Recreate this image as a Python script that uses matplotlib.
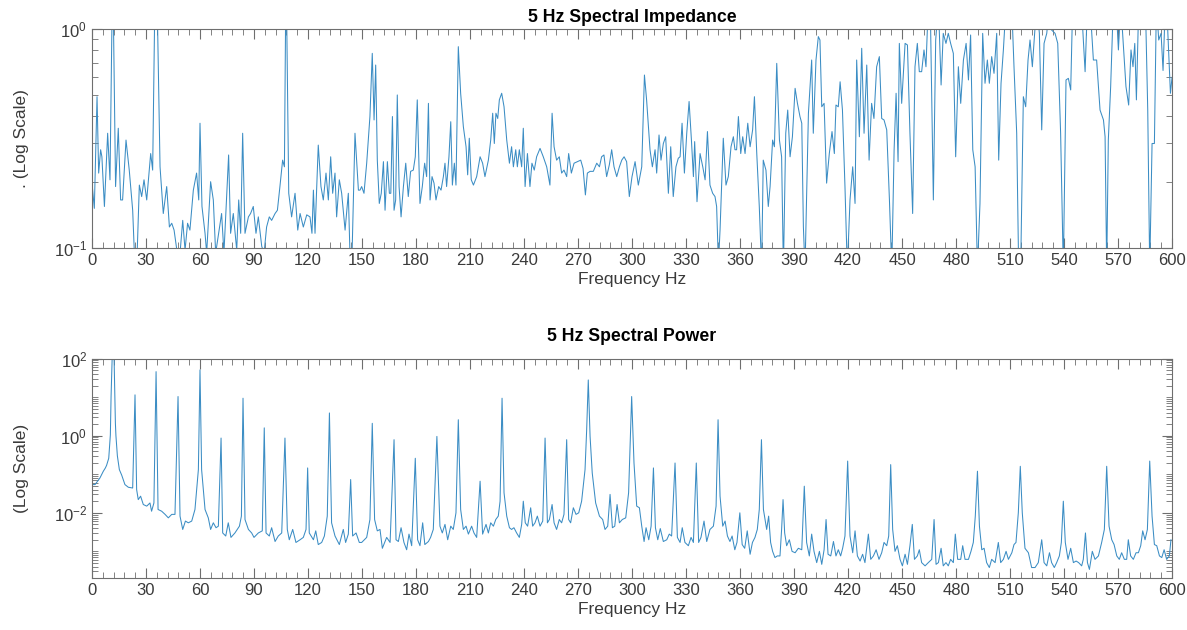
"""
Spectral impedance and spectral power of a 5 Hz signal, two log-scale panels.
"""

import matplotlib
matplotlib.use('Agg')
import matplotlib.pyplot as plt
from matplotlib.ticker import MultipleLocator, LogLocator, NullFormatter

# --- 5 Hz Spectral Impedance ---
imp_freq = [
    0, 1.3, 2.8, 3.7, 4.8, 5.5, 6.9, 8.7, 10, 11.5,
    13.1, 14.6, 15.9, 17, 18.9, 20.7, 22.6, 23.9, 24.8, 26.3,
    27.6, 28.9, 30.4, 32.6, 33.7, 35.2, 36.3, 37.8, 39.6, 41.5,
    43, 44.3, 45.6, 47, 48.9, 50.4, 51.7, 53.1, 54.4, 56.3,
    58.1, 59.3, 60, 61.1, 62.8, 63.7, 65.9, 67.4, 68.7, 70.2,
    72, 73.3, 75.9, 77, 78.5, 80.4, 81.5, 82.6, 83.7, 85,
    86.9, 88.1, 89.6, 91.1, 92.4, 94.3, 95.6, 97, 98.5, 99.8,
    101.7, 103, 104.4, 105.9, 106.9, 107.8, 109.3, 110.9, 112.8, 114.3,
    115.6, 117.4, 119.3, 121.1, 122.2, 123, 123.9, 125.7, 127.2, 128.5,
    130, 131.3, 132.6, 133.7, 135, 135.9, 137.4, 138.7, 140.6, 142.4,
    143.3, 144.3, 146.1, 148,
    148.9, 149.8, 151.1, 152.6, 154.4, 155.7, 156.7, 157.6, 158.5, 159.6,
    160.7, 161.9, 162.8, 164.1, 165.2, 166, 166.9, 167.8, 168.7, 169.6,
    170.6, 171.7, 173, 174.3, 175.7, 177, 178.5, 179.6, 180.7, 182.2,
    183.5, 184.8, 185.9, 186.9, 187.8, 188.9, 190, 191.1, 192.6, 193.9,
    195.2, 196.1, 197, 198.3, 199.3, 200.2, 201.3, 202.2, 203.5, 204.8,
    206.3, 207.8, 208.7, 209.6, 210.7, 211.9, 213.7, 215.6, 217, 218.3,
    220.2, 221.5, 222.6, 223.5, 224.4, 225.4, 226.3, 227.6, 228.9, 230.4,
    231.9, 233.1, 234.1, 235.4, 236.3, 237.4, 238.7, 239.6, 240.6, 241.9,
    243.3, 244.4, 245.7, 247, 248.9, 250.7, 252.6, 254.4, 255.6, 256.7,
    258.1, 259.6, 260.9, 262.2, 263.7, 264.8, 266.3, 267.8, 269.6, 271.5,
    272.8, 274.1, 275.2, 276.7, 278.5, 280.4, 281.9, 283.1, 284.4, 285.9,
    287.4, 288.7, 290, 291.5, 293, 294.3, 295.6, 297, 298.5, 300,
    301.7, 303.5, 305.4, 306.9, 308.1, 310, 311.3, 312.8, 313.7, 315,
    316.1, 317.4, 318.7, 320.2, 321.5, 322.9, 324.4, 325.7, 326.7, 327.8,
    329.1, 330.4, 331.7, 333, 334.1, 334.8, 336.1, 337.8, 339.3, 340.6,
    341.9, 343.3, 344.8, 346.1, 347, 348, 348.9, 350.7, 352.2, 353.5,
    355, 356.3, 357.2, 358.1, 359.1, 360.4, 361.5, 362.8, 364.3, 365.6,
    367, 368, 369.3, 370.7, 372, 372.9, 374.4, 375.7, 376.7, 378.1,
    379.1, 380.4, 381.9, 383.1, 384.1, 385.4, 386.5, 387.8, 389.1, 390.6,
    391.9, 393.3, 394.3, 395.2, 396.1, 398, 399.8, 400.7, 402.2, 403.5,
    404.4, 405.4, 406.7, 408.1, 409.6, 411.1, 412.4, 413.3, 414.6, 415.6,
    416.9, 418.3, 419.6, 421.1, 422.6, 423.9, 424.8, 426.3, 427.6, 428.9,
    430.4, 431.7, 433.1, 434.4, 435.9, 437.4, 438.7, 440, 441.5, 443,
    444.3, 445.6, 446.7, 447.8, 448.5, 449.8, 451.7, 453, 454.4, 455.9,
    457.2, 458.5, 459.6, 460.9, 462.2, 463.3, 464.6, 465.9, 467.4, 468.7,
    470.2, 471.7, 472.9, 474.4, 475.7, 477, 478.5, 479.8, 481.3, 482.6,
    484.1, 485.6, 486.9, 488.1, 489.3, 490.6, 491.9, 493.3, 494.8, 496.1,
    497.4, 498.5, 499.8, 501.1, 502.6, 503.7, 505, 506.3, 507.8, 509.6,
    510.9, 512.2, 513.7, 514.8, 515.9, 517.4, 518.7, 520, 521.1, 522.4,
    523.7, 524.8, 526.3, 527.6, 528.9, 530.4, 531.9, 533.1, 535, 536.5,
    538.1, 539.6, 541.1, 542.4, 543.7, 544.8, 547, 549.6, 551.7, 553,
    554.4, 556.3, 558.1, 560, 561.9, 562.8, 563.7, 564.6, 565.9, 567.4,
    568.9, 570.2, 571.5, 573, 574.4, 575.9, 577.2, 578.3, 579.3, 580.2,
    581.5, 583.3, 585.2, 586.5, 587.6, 588.9, 590.2, 591.3, 592.6, 593.9,
    595, 596.3, 597.6, 599.1, 600,
]
imp_val = [
    0.198, 0.152, 0.49, 0.22, 0.281, 0.261, 0.155, 0.334, 0.205, 2.0,
    0.191, 0.352, 0.166, 0.166, 0.311, 0.227, 0.149, 0.08, 0.08, 0.194,
    0.172, 0.205, 0.166, 0.27, 0.227, 2.0, 1.2, 0.235, 0.144, 0.191,
    0.125, 0.13, 0.121, 0.1, 0.095, 0.134, 0.098, 0.13, 0.121, 0.184,
    0.22, 0.166, 0.371, 0.155, 0.117, 0.095, 0.201, 0.166, 0.095, 0.115,
    0.144, 0.095, 0.266, 0.117, 0.144, 0.098, 0.166, 0.117, 0.334, 0.117,
    0.139, 0.144, 0.155, 0.117, 0.139, 0.102, 0.095, 0.125, 0.139, 0.134,
    0.144, 0.149, 0.191, 0.252, 0.235, 2.0, 0.178, 0.139, 0.178, 0.121,
    0.144, 0.125, 0.142, 0.139, 0.117, 0.184, 0.117, 0.295, 0.191, 0.166,
    0.22, 0.166, 0.261, 0.178, 0.22, 0.139, 0.205, 0.178, 0.121, 0.178,
    0.095, 0.082, 0.334, 0.184,
    0.184, 0.191, 0.178, 0.244, 0.398, 0.772, 0.384, 0.683, 0.252, 0.16,
    0.178, 0.248, 0.149, 0.248, 0.178, 0.178, 0.398, 0.149, 0.166, 0.499,
    0.191, 0.139, 0.191, 0.244, 0.172, 0.224, 0.227, 0.261, 0.474, 0.16,
    0.191, 0.244, 0.212, 0.457, 0.166, 0.212, 0.198, 0.166, 0.191, 0.184,
    0.212, 0.244, 0.191, 0.261, 0.377, 0.194, 0.244, 0.194, 0.828, 0.508,
    0.358, 0.29, 0.216, 0.317, 0.205, 0.194, 0.212, 0.261, 0.244, 0.212,
    0.252, 0.311, 0.412, 0.3, 0.412, 0.39, 0.474, 0.508, 0.441, 0.311,
    0.244, 0.29, 0.235, 0.281, 0.235, 0.281, 0.235, 0.352, 0.191, 0.27,
    0.191, 0.244, 0.227, 0.261, 0.285, 0.261, 0.235, 0.194, 0.412, 0.29,
    0.252, 0.261, 0.22, 0.227, 0.212, 0.27, 0.22, 0.244, 0.248, 0.252,
    0.231, 0.175, 0.22, 0.224, 0.224, 0.244, 0.235, 0.261, 0.266, 0.212,
    0.24, 0.281, 0.235, 0.212, 0.235, 0.252, 0.261, 0.248, 0.172, 0.212,
    0.248, 0.194, 0.235, 0.615, 0.474, 0.281, 0.235, 0.281, 0.22, 0.328,
    0.252, 0.3, 0.322, 0.178, 0.29, 0.172, 0.235, 0.257, 0.261, 0.371,
    0.22, 0.334, 0.466, 0.311, 0.212, 0.306, 0.163, 0.27, 0.235, 0.205,
    0.34, 0.194, 0.178, 0.172, 0.155, 0.085, 0.121, 0.317, 0.194, 0.212,
    0.29, 0.322, 0.281, 0.281, 0.398, 0.27, 0.322, 0.27, 0.371, 0.29,
    0.346, 0.49, 0.27, 0.155, 0.08, 0.252, 0.227, 0.155, 0.191, 0.311,
    0.29, 0.695, 0.311, 0.261, 0.08, 0.334, 0.426, 0.261, 0.322, 0.535,
    0.457, 0.398, 0.371, 0.125, 0.08, 0.412, 0.72, 0.334, 0.72, 0.92,
    0.888, 0.441, 0.457, 0.198, 0.27, 0.34, 0.27, 0.449, 0.441, 0.573,
    0.426, 0.191, 0.08, 0.166, 0.235, 0.16, 0.72, 0.322, 0.814, 0.334,
    0.683, 0.252, 0.457, 0.39, 0.671, 0.746, 0.39, 0.384, 0.346, 0.166,
    0.08, 0.281, 0.508, 0.248, 0.857, 0.457, 0.857, 0.843, 0.334, 0.144,
    0.671, 0.857, 0.637, 0.637, 0.8, 0.671, 1.3, 0.986, 0.166, 0.888,
    1.3, 0.554, 0.952, 0.857, 0.952, 0.857, 0.772, 0.261, 0.671, 0.457,
    0.72, 0.857, 0.584, 0.936, 0.281, 0.235, 0.08, 0.16, 0.952, 0.564,
    0.72, 0.564, 0.746, 0.626, 0.952, 0.252, 0.564, 0.8, 1.3, 1.3,
    1.3, 0.671, 0.334, 0.08, 0.08, 0.49, 0.441, 0.72, 0.888, 0.671,
    0.952, 1.3, 0.952, 0.346, 0.857, 0.952, 1.3, 0.986, 0.952, 0.857,
    0.334, 0.08, 0.584, 0.594, 0.526, 1.3, 1.3, 1.3, 0.637, 1.3,
    1.3, 0.72, 0.72, 0.426, 0.384, 0.322, 0.08, 0.311, 0.545, 1.3,
    1.3, 0.8, 1.3, 0.828, 0.545, 0.449, 0.8, 0.671, 0.857, 0.474,
    1.3, 1.3, 1.3, 0.426, 0.08, 0.3, 0.3, 1.3, 0.888, 0.952,
    0.645, 1.3, 0.986, 0.508, 0.6,
]

# --- 5 Hz Spectral Power ---
pow_freq = [
    0, 1.7, 4.4, 6.3, 7.4, 8.1, 9.3, 10.2, 10.6, 11.3, 12.2, 13, 13.3,
    14.1, 15.2, 16.5, 18.3, 20.2, 22.6, 23.9, 24.8, 25.7, 27,
    28.5, 30.4, 32.2, 33.1, 34.4, 35.6, 36.7, 38.7, 40.6, 42.4,
    44.3, 46.1, 47.8, 48.9, 50.4, 51.9, 53.5, 55.4, 57.2, 59.1,
    60, 60.9, 62.8, 64.6, 65.9, 67.4, 68.9, 70.2, 71.7, 72.6,
    74.3, 75.7, 77.2, 79.4, 81.9, 83, 83.9, 85, 86.9, 88.7,
    90, 92.4, 94.6, 95.7, 96.7, 98.5, 99.8, 101.7, 103.5, 105.4,
    107.2, 108.5, 109.6, 111.5, 113.3, 115.6, 117.4, 118.9, 119.8, 120.7,
    123, 124.3, 125.7, 127.6, 129.1, 130.7, 131.9, 133.1, 135, 137.4,
    139.6, 140.9, 142.4, 143.7, 144.8, 146.7, 148.5, 149.8, 152.6, 154.4,
    155.7, 157, 158.5, 160, 161.3, 163.7, 165.6, 167.8, 168.9, 170.2,
    171.7, 173.3, 174.8, 176.1, 177.6, 179.6, 180.9, 182.2, 183.7, 184.9,
    186.9, 188.1, 189.6, 191.6, 193.3, 194.6, 196.1, 197.6, 199.3, 200.7,
    202.2, 203.5, 204.8, 206.3, 207.8, 209.1, 210.9, 212.2, 213.7, 215.6,
    217, 218.9, 220.2, 221.5, 223, 224.3, 225.7, 226.7, 227.8, 228.9,
    230.4, 231.9, 233.1, 234.4, 235.9, 237.4, 238.7, 239.6, 240.7, 242,
    243.7, 244.8, 246.1, 247.4, 248.9, 250.4, 251.7, 253, 254.1, 255.6,
    256.7, 258.1, 259.6, 260.9, 262.2, 263.7, 264.8, 265.9, 267.4, 268.9,
    270.4, 272, 273.9, 274.8, 275.7, 276.7, 277.9, 279.8, 281.9, 283.7,
    285, 286.5, 287.8, 289.1, 290.4, 291.7, 293, 294.6, 296.5, 298.1,
    299.8, 301.1, 302.6, 304.1, 305.4, 306.7, 307.8, 309.3, 310.6, 311.9,
    313, 314.3, 315.7, 317.4, 319.3, 320.7, 322, 323.9, 325.2, 326.7,
    327.9, 329.4, 331.3, 332.8, 334.1, 335.7, 337, 338.3, 340, 341.5,
    343.3, 345.2, 346.7, 347.8, 348.9, 350.4, 351.7, 353, 354.4, 355.6,
    357.1, 358.3, 359.9, 361.2, 362.6, 364, 365.6, 366.9, 368.3, 369.6,
    370.7, 371.9, 373, 374.8, 375.9, 377, 378.1, 379.4, 380.7, 382.2,
    383.1, 383.9, 384.8, 385.9, 387.4, 388.9, 390.6, 392.4, 394.3, 395.7,
    397, 398.5, 399.8, 401.1, 402.6, 404.1, 405.4, 406.7, 407.8, 408.9,
    410.4, 411.9, 413.3, 414.6, 415.9, 417, 418.3, 419.8, 421.1, 422.6,
    423.9, 425.2, 426.7, 428.1, 429.4, 431.3, 432.6, 434.1, 435.6, 437.2,
    438.7, 440, 441.5, 442.6, 443.7, 444.8, 446.1, 447.4, 448.9, 450.2,
    451.7, 453, 454.4, 455.7, 456.9, 458.5, 459.6, 460.9, 462.8, 464.6,
    466.5, 467.8, 468.9, 470.2, 471.7, 472.9, 474.4, 475.7, 477, 478.5,
    479.6, 480.9, 482.6, 483.7, 485, 486.9, 488.3, 489.6, 490.7, 491.9,
    493, 494.3, 495.6, 497, 498.5, 499.8, 501.7, 503.5, 504.8, 506.3,
    507.8, 509.1, 511, 512.2, 513.3, 514.6, 515.7, 516.8, 518.3, 520.2,
    522, 523.9, 525.7, 527.6, 528.9, 530.4, 531.9, 533.1, 534.6, 535.9,
    537.4, 538.5, 539.6, 540.7, 542.2, 543.7, 545.2, 546.7, 548.1, 549.8,
    550.7, 551.9, 553, 554.1, 555.7, 557.2, 559.1, 560.9, 562.4, 563.7,
    565, 566.5, 567.8, 569.3, 570.7, 572, 573.5, 574.8, 575.7, 577,
    578.5, 580, 581.3, 582.6, 583.7, 585, 586.3, 587.6, 588.9, 590.2,
    591.5, 593, 594.3, 595.6, 597, 598.5, 599.4,
]
pow_val = [
    0.054, 0.054, 0.08, 0.12, 0.145, 0.17, 0.26, 1.05, 10.4, 150, 150, 2.1, 1.0,
    0.3, 0.132, 0.095, 0.054, 0.046, 0.044, 11.5, 0.04, 0.022, 0.027,
    0.0164, 0.0149, 0.018, 0.011, 0.018, 46, 0.0122, 0.011, 0.0091, 0.0074,
    0.0091, 0.0091, 10.4, 0.0082, 0.0037, 0.0061, 0.0055, 0.0061, 0.0122, 0.132,
    51, 0.132, 0.0122, 0.0074, 0.0037, 0.0055, 0.0041, 0.0045, 0.87, 0.003,
    0.0025, 0.0055, 0.0023, 0.003, 0.0045, 0.0082, 9.4, 0.0067, 0.0037, 0.003,
    0.0023, 0.003, 0.0034, 1.6, 0.003, 0.0025, 0.0041, 0.0018, 0.0025, 0.003,
    0.87, 0.0037, 0.002, 0.0037, 0.0017, 0.002, 0.0023, 0.0037, 0.146, 0.003,
    0.002, 0.0034, 0.0015, 0.0017, 0.0025, 0.0082, 3.9, 0.0055, 0.0025, 0.0015,
    0.0037, 0.0017, 0.0028, 0.073, 0.0025, 0.003, 0.0017, 0.0017, 0.0023, 0.0067,
    2.1, 0.0067, 0.0034, 0.0037, 0.0012, 0.0023, 0.0017, 0.79, 0.002, 0.0018,
    0.0041, 0.0017, 0.0011, 0.0028, 0.0014, 0.26, 0.002, 0.0014, 0.0055, 0.0015,
    0.0018, 0.0023, 0.0037, 0.96, 0.0045, 0.003, 0.005, 0.002, 0.0045, 0.0037,
    0.01, 2.6, 0.0122, 0.0037, 0.0045, 0.0028, 0.0045, 0.003, 0.0023, 0.066,
    0.0028, 0.005, 0.003, 0.0055, 0.0045, 0.0067, 0.0082, 0.02, 9.4, 0.033,
    0.0082, 0.0041, 0.0037, 0.0041, 0.003, 0.0023, 0.005, 0.02, 0.0055, 0.0045,
    0.0135, 0.0045, 0.0055, 0.0082, 0.0045, 0.0061, 0.87, 0.0055, 0.0067, 0.0164,
    0.0055, 0.0037, 0.0067, 0.0055, 0.0091, 0.79, 0.0067, 0.0055, 0.0135, 0.0091,
    0.01, 0.02, 0.132, 1.4, 28, 0.96, 0.108, 0.018, 0.0082, 0.0067,
    0.0037, 0.0045, 0.03, 0.0041, 0.0045, 0.0164, 0.0055, 0.0067, 0.0074, 0.033,
    10.4, 0.196, 0.0149, 0.0135, 0.0045, 0.0018, 0.0041, 0.002, 0.0045, 0.146,
    0.0041, 0.002, 0.0039, 0.0018, 0.002, 0.0028, 0.0025, 0.196, 0.0023, 0.0017,
    0.0041, 0.0017, 0.0014, 0.0023, 0.0017, 0.196, 0.0017, 0.0023, 0.0061, 0.0018,
    0.0037, 0.0045, 0.0149, 2.6, 0.027, 0.0045, 0.0061, 0.0025, 0.0018, 0.0025,
    0.0011, 0.0017, 0.01, 0.0015, 0.0012, 0.0034, 0.00084, 0.0017, 0.0023, 0.0037,
    0.0122, 0.79, 0.0122, 0.0037, 0.0082, 0.0017, 0.001, 0.00069, 0.00076, 0.00076,
    0.0037, 0.022, 0.003, 0.0014, 0.002, 0.001, 0.00092, 0.0012, 0.0011, 0.049,
    0.0017, 0.00076, 0.0028, 0.001, 0.00051, 0.001, 0.00046, 0.0011, 0.0067, 0.00084,
    0.00076, 0.0018, 0.00076, 0.0011, 0.00076, 0.0012, 0.0025, 0.22, 0.0025, 0.00092,
    0.0034, 0.00076, 0.00056, 0.00084, 0.00051, 0.0028, 0.00062, 0.00076, 0.0011, 0.00062,
    0.00092, 0.0017, 0.0014, 0.0025, 0.178, 0.0037, 0.001, 0.0014, 0.00062, 0.00042,
    0.00084, 0.00046, 0.0014, 0.005, 0.00062, 0.00076, 0.0011, 0.00051, 0.00042, 0.00051,
    0.00062, 0.0067, 0.00046, 0.00051, 0.0012, 0.00042, 0.00051, 0.00042, 0.00062, 0.00051,
    0.0028, 0.00062, 0.00062, 0.0014, 0.00062, 0.00062, 0.001, 0.0017, 0.0082, 0.12,
    0.0045, 0.0011, 0.0012, 0.00051, 0.00038, 0.00062, 0.00051, 0.0017, 0.00051, 0.00062,
    0.001, 0.00062, 0.00092, 0.0015, 0.0017, 0.01, 0.161, 0.01, 0.0012, 0.00092,
    0.00038, 0.00038, 0.00051, 0.002, 0.00051, 0.00042, 0.00092, 0.00051, 0.00038, 0.00051,
    0.00076, 0.0017, 0.02, 0.0017, 0.00062, 0.0012, 0.00051, 0.00056, 0.00051, 0.00042,
    0.00062, 0.003, 0.00051, 0.00034, 0.001, 0.00062, 0.00076, 0.0017, 0.0037, 0.161,
    0.0045, 0.002, 0.0015, 0.00076, 0.00062, 0.00092, 0.00062, 0.00062, 0.002, 0.00076,
    0.00062, 0.00092, 0.00092, 0.0014, 0.0034, 0.002, 0.0037, 0.22, 0.0082, 0.0015,
    0.0014, 0.00076, 0.00069, 0.0011, 0.00062, 0.00076, 0.002,
]

freq_ticks = list(range(0, 601, 30))

LINE_COLOR = '#3b8dc4'
AXIS_COLOR = '#6e6e6e'
TEXT_COLOR = '#3a3a3a'

plt.rcParams['font.family'] = ['Liberation Sans', 'DejaVu Sans']


def style_axes(ax):
    """MATLAB-like box with inward ticks on all sides"""
    for side in ax.spines.values():
        side.set_color(AXIS_COLOR)
        side.set_linewidth(0.8)
    ax.set_xlim(0, 600)
    ax.set_xticks(freq_ticks)
    ax.xaxis.set_minor_locator(MultipleLocator(6))
    ax.tick_params(which='both', direction='in', top=True, right=True,
                   color=AXIS_COLOR, labelcolor=TEXT_COLOR, labelsize=12)
    ax.tick_params(which='major', length=7, width=0.8)
    ax.tick_params(which='minor', length=4, width=0.6)
    ax.set_xlabel('Frequency Hz', fontsize=12.5, color=TEXT_COLOR, labelpad=3)


fig = plt.figure(figsize=(11.87, 6.30), dpi=100)

ax1 = fig.add_axes([0.0775, 0.6059, 0.9099, 0.3486])
ax1.plot(imp_freq, imp_val, color=LINE_COLOR, lw=0.75)
ax1.set_yscale('log')
ax1.set_ylim(0.1, 1)
ax1.yaxis.set_major_locator(LogLocator(base=10, subs=(1.0,)))
ax1.yaxis.set_minor_locator(LogLocator(base=10, subs=[2, 3, 4, 5, 6, 7, 8, 9]))
ax1.yaxis.set_minor_formatter(NullFormatter())
style_axes(ax1)
ax1.set_title('5 Hz Spectral Impedance', fontsize=12.7, fontweight='bold', pad=5)
ax1.set_ylabel('. (Log Scale)', fontsize=12.5, color=TEXT_COLOR)
ax1.yaxis.set_label_coords(-0.058, 0.5)

ax2 = fig.add_axes([0.0775, 0.0821, 0.9099, 0.3486])
ax2.plot(pow_freq, pow_val, color=LINE_COLOR, lw=0.75)
ax2.set_yscale('log')
ax2.set_ylim(2e-4, 100)
ax2.set_yticks([1e-2, 1e0, 1e2])
ax2.yaxis.set_minor_locator(LogLocator(base=10, subs=[1, 2, 3, 4, 5, 6, 7, 8, 9], numticks=20))
ax2.yaxis.set_minor_formatter(NullFormatter())
style_axes(ax2)
ax2.set_title('5 Hz Spectral Power', fontsize=12.7, fontweight='bold', pad=13)
ax2.set_ylabel('(Log Scale)', fontsize=12.5, color=TEXT_COLOR)
ax2.yaxis.set_label_coords(-0.058, 0.5)

plt.savefig('out.png', dpi=100)
